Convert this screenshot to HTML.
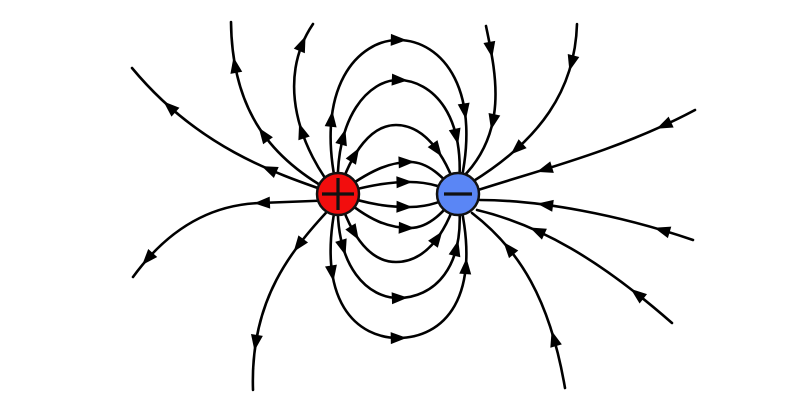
<!DOCTYPE html>
<html><head><meta charset="utf-8"><style>
html,body{margin:0;padding:0;background:#fff;width:800px;height:400px;overflow:hidden}
svg{display:block}
</style></head><body>
<svg id="s" width="800" height="400" viewBox="0 0 800 400">
<g id="lines" fill="none" stroke="#000" stroke-width="2.6" stroke-linecap="round"></g>
<g id="arrows" fill="#000"></g>
<circle cx="338" cy="194" r="21" fill="#f20d0d" stroke="#111" stroke-width="2.5"/>
<line x1="322" y1="194" x2="354" y2="194" stroke="#111" stroke-width="3.2"/>
<line x1="338" y1="178" x2="338" y2="210" stroke="#111" stroke-width="3.2"/>
<circle cx="458" cy="194" r="21" fill="#5a86f5" stroke="#111" stroke-width="2.5"/>
<line x1="444" y1="194" x2="472" y2="194" stroke="#111" stroke-width="3.2"/>
</svg>
<script>
var P=[
["M338,195 C280,175 200,150 132,68",[0.3,0.78]],
["M338,195 C270,160 232,110 231,22",[0.45,0.8]],
["M338,195 C300,150 275,80 313,24",[0.4,0.88]],
["M338,200 L260,203 C200,205 160,240 133,277",[0.33,0.9]],
["M338,200 C290,250 250,300 253,390",[0.28,0.78]],
["M338,194 C312,85 360,40 398,40 C442,40 485,90 458,194",[0.2,0.5,0.78]],
["M338,194 C312,305 360,338 398,338 C442,338 485,300 458,194",[0.22,0.5,0.8]],
["M338,194 C334,115 370,80 398,80 C432,80 468,115 458,194",[0.2,0.5,0.8]],
["M338,194 C334,270 370,298 398,298 C432,298 468,270 458,194",[0.2,0.5,0.8]],
["M338,194 C352,150 372,125 396,125 C422,125 444,150 458,194",[0.22,0.75]],
["M338,194 C352,240 372,262 396,262 C422,262 444,240 458,194",[0.22,0.75]],
["M338,194 C370,170 390,162 410,162 C430,162 445,180 458,194",[0.55]],
["M338,194 C370,185 390,182 410,182 C430,182 445,188 458,194",[0.55]],
["M338,194 C370,205 390,207 410,207 C430,207 445,200 458,194",[0.55]],
["M338,194 C370,222 390,228 410,228 C430,228 445,210 458,194",[0.55]],
["M486,26 C495,70 510,130 462,178",[0.15,0.6]],
["M577,24 C575,90 540,140 472,182",[0.2,0.72]],
["M695,110 C620,150 540,170 478,190",[0.15,0.7]],
["M693,240 C620,215 540,200 480,200",[0.15,0.7]],
["M672,323 C600,260 540,225 477,210",[0.2,0.72]],
["M565,388 C550,300 520,250 472,213",[0.25,0.75]]
];
var NS="http://www.w3.org/2000/svg",L=document.getElementById("lines"),A=document.getElementById("arrows");
P.forEach(function(p){
 var e=document.createElementNS(NS,"path");e.setAttribute("d",p[0]);L.appendChild(e);
 var len=e.getTotalLength();
 p[1].forEach(function(f){
  var a=e.getPointAtLength(f*len),b=e.getPointAtLength(Math.min(len,f*len+1));
  var ang=Math.atan2(b.y-a.y,b.x-a.x)*180/Math.PI;
  var t=document.createElementNS(NS,"polygon");
  t.setAttribute("points","8,0 -8,-6 -8,6");
  t.setAttribute("transform","translate("+a.x+","+a.y+") rotate("+ang+")");
  A.appendChild(t);
 });
});
</script>
</body></html>
